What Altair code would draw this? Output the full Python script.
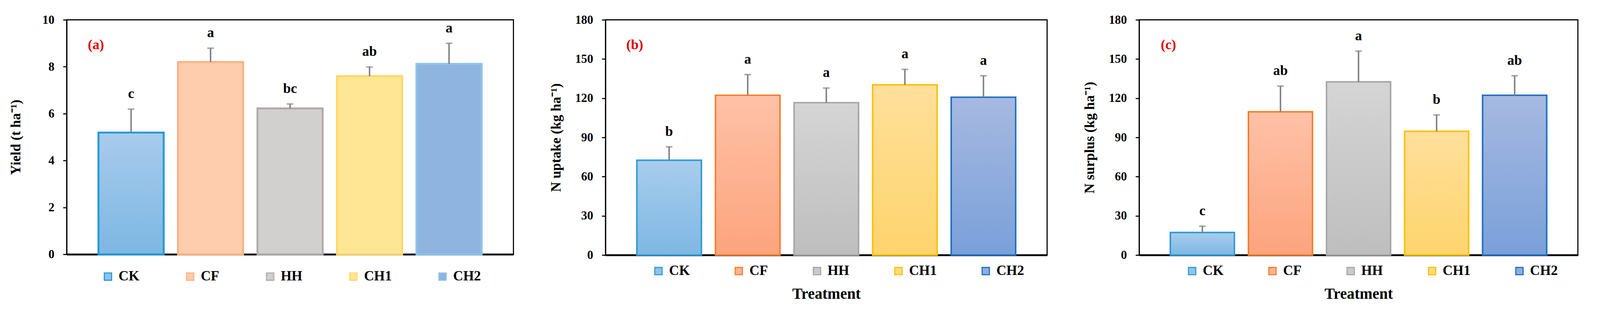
import altair as alt
import pandas as pd

# ---------------- data ----------------
treatments = ["CK", "CF", "HH", "CH1", "CH2"]

yield_mean = [5.19, 8.20, 6.22, 7.60, 8.12]
yield_err = [1.00, 0.59, 0.19, 0.39, 0.88]
yield_letters = ["c", "a", "bc", "ab", "a"]

uptake_mean = [72.5, 122.3, 116.6, 130.2, 120.8]
uptake_err = [10.3, 15.8, 11.2, 11.9, 16.4]
uptake_letters = ["b", "a", "a", "a", "a"]

surplus_mean = [17.2, 109.6, 132.5, 94.6, 122.3]
surplus_err = [4.9, 19.7, 23.6, 12.6, 14.9]
surplus_letters = ["c", "ab", "a", "b", "ab"]

# ---------------- styles ----------------
FONT = "Liberation Serif"
ERR_COLOR = "#7F7F7F"

a_top = ["#A8CBEC", "#FDCDAD", "#D1D0CF", "#FEE694", "#8FB4E0"]
a_bot = ["#7DB7E3", "#FDCDAD", "#D1D0CF", "#FEE694", "#8FB4E0"]
a_stroke = ["#229AD6", "#FBB383", "#AFABAB", "#FFD966", "#8EC4E8"]
a_legend = ["#93C1E8", "#FDCDAD", "#D1D0CF", "#FEE694", "#8FB4E0"]

bc_top = ["#A9CCEC", "#FFC1A7", "#D5D5D5", "#FFE09C", "#A6B9E1"]
bc_bot = ["#7DB8E3", "#FCA47D", "#BEBEBE", "#FED46C", "#7AA0D9"]
bc_stroke = ["#2E9BD6", "#F47F2C", "#A6A6A6", "#FFC000", "#1F70C1"]
bc_legend = ["#93C2E8", "#FEB392", "#CACACA", "#FEDA84", "#90ACDD"]


def panel(mean, err, letters, tag, ymax, step, ytitle, xtitle, width, height,
          tops, bots, strokes, legend_fill, bar_sw, ytitle_pad,
          legend_x, legend_y, legend_pad):
    df = pd.DataFrame({
        "treatment": treatments,
        "mean": mean,
        "top": [m + e for m, e in zip(mean, err)],
        "letter": letters,
    })
    xaxis_kw = dict(labels=False, ticks=False, domain=True, domainColor="black",
                    domainWidth=5, titleFont=FONT, titleFontSize=42,
                    titleFontWeight="bold", titleColor="black", titlePadding=86)
    x = alt.X("treatment:N", sort=treatments,
              scale=alt.Scale(domain=treatments, paddingInner=0.18, paddingOuter=0.4),
              axis=alt.Axis(**xaxis_kw), title=xtitle)
    yaxis = alt.Axis(values=list(range(0, ymax + 1, step)), grid=False,
                     domainColor="black", domainWidth=3, tickColor="black",
                     tickWidth=3, tickSize=10, labelPadding=24,
                     labelFont=FONT, labelFontSize=33, labelFontWeight="bold",
                     labelColor="black", titleFont=FONT, titleFontSize=38,
                     titleFontWeight="bold", titleColor="black",
                     titlePadding=ytitle_pad)
    yscale = alt.Scale(domain=[0, ymax], nice=False)

    def Y(field):
        return alt.Y(f"{field}:Q", scale=yscale, axis=yaxis, title=ytitle)

    base = alt.Chart(df)
    leg = dict(orient="none", legendX=legend_x, legendY=legend_y,
               direction="horizontal", title=None, symbolType="square",
               symbolSize=400, symbolStrokeWidth=3, symbolOpacity=1,
               labelFont=FONT, labelFontSize=38, labelFontWeight="bold",
               labelColor="black", labelOffset=10, columnPadding=legend_pad,
               padding=0)
    solid = base.mark_bar(strokeWidth=bar_sw).encode(
        x=x, y=Y("mean"),
        fill=alt.Fill("treatment:N", scale=alt.Scale(domain=treatments, range=legend_fill),
                      legend=alt.Legend(**leg)),
        stroke=alt.Stroke("treatment:N", scale=alt.Scale(domain=treatments, range=strokes),
                          legend=alt.Legend(**leg)),
    )
    layers = [solid]
    for t, c1, c2, s in zip(treatments, tops, bots, strokes):
        grad = alt.Gradient(gradient="linear",
                            stops=[alt.GradientStop(color=c1, offset=0),
                                   alt.GradientStop(color=c2, offset=1)],
                            x1=0, x2=0, y1=0, y2=1)
        layers.append(
            base.mark_bar(fill=grad, stroke=s, strokeWidth=bar_sw)
            .transform_filter(alt.datum.treatment == t)
            .encode(x=x, y=Y("mean"))
        )
    stems = base.mark_rule(color=ERR_COLOR, strokeWidth=4).encode(
        x=x, y=Y("mean"), y2="top:Q")
    caps = base.mark_tick(color=ERR_COLOR, thickness=4, size=18).encode(
        x=x, y=Y("top"))
    labels = base.mark_text(dy=-30, baseline="alphabetic", font=FONT,
                            fontSize=38, fontWeight="bold", color="black").encode(
        x=x, y=Y("top"), text="letter:N")
    tagc = alt.Chart(pd.DataFrame({"tag": [tag]})).mark_text(
        font=FONT, fontSize=38, fontWeight="bold", color="#E00000",
        baseline="middle", align="center").encode(
        x=alt.value(80), y=alt.value(69), text="tag:N")
    layers += [stems, caps, labels, tagc]
    return alt.layer(*layers).properties(width=width, height=height)


pa = panel(yield_mean, yield_err, yield_letters, "(a)", 10, 2, "Yield (t ha⁻¹)", None,
           1223, 642, a_top, a_bot, a_stroke, a_legend, 5, 52, 94, 684, 120)
pb = panel(uptake_mean, uptake_err, uptake_letters, "(b)", 180, 30, "N uptake (kg ha⁻¹)",
           "Treatment", 1209, 644, bc_top, bc_bot, bc_stroke, bc_legend, 4, 32, 126, 669, 115)
pc = panel(surplus_mean, surplus_err, surplus_letters, "(c)", 180, 30, "N surplus (kg ha⁻¹)",
           "Treatment", 1201, 644, bc_top, bc_bot, bc_stroke, bc_legend, 4, 32, 126, 669, 115)

chart = alt.hconcat(pa, pb, pc, spacing=252, bounds="flush").properties(
    padding={"left": 15, "top": 0, "right": 50, "bottom": 8},
    background="white",
).configure_view(stroke="black", strokeWidth=3).resolve_scale(
    fill="independent", stroke="independent", y="independent", x="independent")

chart.save("out.html", embed_options={"renderer": "svg", "actions": False})
